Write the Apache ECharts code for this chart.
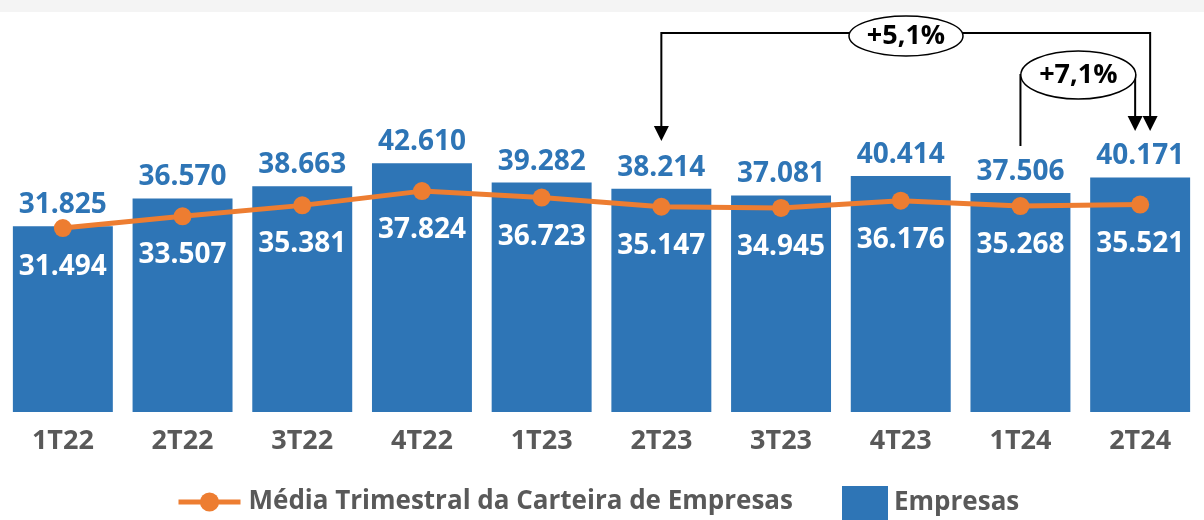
<!DOCTYPE html>
<html>
<head>
<meta charset="utf-8">
<script src="https://cdn.jsdelivr.net/npm/echarts@6/dist/echarts.min.js"></script>
<style>
html,body{margin:0;padding:0;background:#fff;}
#c{width:1204px;height:520px;}
</style>
</head>
<body>
<div id="c"></div>
<script>
var categories = ['1T22','2T22','3T22','4T22','1T23','2T23','3T23','4T23','1T24','2T24'];
var empresas = [31825, 36570, 38663, 42610, 39282, 38214, 37081, 40414, 37506, 40171];
var media = [31494, 33507, 35381, 37824, 36723, 35147, 34945, 36176, 35268, 35521];
var lineName = 'Média Trimestral da Carteira de Empresas';
var barName = 'Empresas';
var growth1 = '+5,1%';
var growth2 = '+7,1%';

function fmt(v){ return String(v).replace(/\B(?=(\d{3})+(?!\d))/g, '.'); }

var FONT = '"Open Sans", "Noto Sans", sans-serif';
var chart = echarts.init(document.getElementById('c'), null, {renderer:'canvas'});
var option = {
  animation: false,
  backgroundColor: '#ffffff',
  grid: {left: 3, right: 4, top: 120, bottom: 108, containLabel: false, outerBoundsMode: 'none'},
  xAxis: {
    type: 'category', data: categories,
    axisLine: {show: false}, axisTick: {show: false},
    axisLabel: {color: '#595959', fontFamily: FONT, fontWeight: 'bold', fontSize: 27, margin: 16, interval: 0}
  },
  yAxis: {type: 'value', min: 0, max: 50000, show: false, splitLine: {show: false}},
  legend: [
    {data: [lineName], left: 171, top: 482, itemWidth: 62, itemHeight: 24,
     lineStyle: {width: 5, color: '#ED7D31'},
     textStyle: {color: '#595959', fontFamily: FONT, fontWeight: 'bold', fontSize: 26, lineHeight: 30, padding: [0,0,0,3]}},
    {data: [{name: barName, icon: 'rect'}], left: 837, top: 481, itemWidth: 46, itemHeight: 34,
     textStyle: {color: '#595959', fontFamily: FONT, fontWeight: 'bold', fontSize: 26, lineHeight: 30, padding: [0,0,0,1]}}
  ],
  series: [
    {
      name: barName, type: 'bar', data: empresas, barCategoryGap: '16.5%',
      itemStyle: {color: '#2E75B6'},
      label: {show: true, position: 'top', distance: 7, color: '#2E75B6', fontFamily: FONT, fontWeight: 'bold', fontSize: 28,
        formatter: function(p){ return fmt(p.value); }},
      z: 1
    },
    {
      name: lineName, type: 'line', data: media, symbol: 'circle', symbolSize: 18,
      lineStyle: {color: '#ED7D31', width: 5}, itemStyle: {color: '#ED7D31'},
      label: {show: true, position: 'bottom', distance: 16, color: '#ffffff', fontFamily: FONT, fontWeight: 'bold', fontSize: 28,
        formatter: function(p){ return fmt(p.value); }},
      z: 3
    }
  ]
};
chart.setOption(option);

function cx(i){ return chart.convertToPixel({xAxisIndex: 0}, categories[i]); }
var xA = cx(5), xB = cx(8), xC = cx(9);
var x1R = xC + 10, x2R = xC - 5;
function arrow(x, tip){
  return {type: 'polygon', shape: {points: [[x-7.5, tip-15], [x+7.5, tip-15], [x, tip]]}, style: {fill: '#000'}, z: 10};
}
var e1x = 906, e1y = 36, e2x = (xB + xC) / 2 - 2, e2y = 75;
chart.setOption({
  graphic: [
    {type: 'rect', shape: {x: 0, y: 0, width: 1204, height: 12}, style: {fill: '#f4f4f4'}, z: 0},
    {type: 'polyline', shape: {points: [[xA, 128], [xA, 33], [x1R, 33], [x1R, 118]]}, style: {stroke: '#000', lineWidth: 2, fill: null}, z: 10},
    arrow(xA, 141), arrow(x1R, 131),
    {type: 'polyline', shape: {points: [[xB, 146], [xB, 75], [x2R, 75], [x2R, 118]]}, style: {stroke: '#000', lineWidth: 2, fill: null}, z: 10},
    arrow(x2R, 131),
    {type: 'ellipse', shape: {cx: e1x, cy: e1y, rx: 57, ry: 20}, style: {fill: '#fff', stroke: '#000', lineWidth: 1.5}, z: 11},
    {type: 'text', x: e1x, y: e1y, style: {text: growth1, fill: '#000', font: 'bold 27px ' + FONT, align: 'center', verticalAlign: 'middle'}, z: 12},
    {type: 'ellipse', shape: {cx: e2x, cy: e2y, rx: 57.5, ry: 24}, style: {fill: '#fff', stroke: '#000', lineWidth: 1.5}, z: 11},
    {type: 'text', x: e2x, y: e2y, style: {text: growth2, fill: '#000', font: 'bold 27px ' + FONT, align: 'center', verticalAlign: 'middle'}, z: 12}
  ]
});
</script>
</body>
</html>
